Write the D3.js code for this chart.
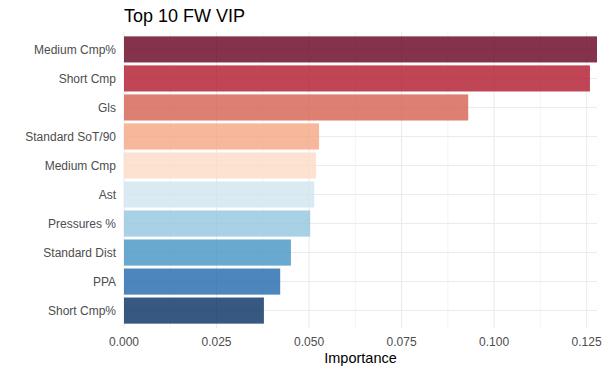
<!DOCTYPE html>
<html>
<head>
<meta charset="utf-8">
<script src="https://cdn.jsdelivr.net/npm/d3@7"></script>
<style>
  body { margin: 0; background: #fff; }
  text { font-family: "Liberation Sans", Arial, sans-serif; }
</style>
</head>
<body>
<div id="chart"></div>
<script>
// --- Data (top to bottom) ---
const features = ["Medium Cmp%", "Short Cmp", "Gls", "Standard SoT/90", "Medium Cmp",
                  "Ast", "Pressures %", "Standard Dist", "PPA", "Short Cmp%"];
const importance = [0.1278, 0.1259, 0.0930, 0.0527, 0.0519, 0.0514, 0.0503, 0.0451, 0.0422, 0.0378];
const barColors = ["#67001f", "#b2182b", "#d6604d", "#f4a582", "#fddbc7",
                   "#d1e5f0", "#92c5de", "#4393c3", "#2166ac", "#053061"];
const xTicks = [0, 0.025, 0.05, 0.075, 0.1, 0.125];
const xMinor = [0.0125, 0.0375, 0.0625, 0.0875, 0.1125];

const width = 605, height = 373;
const margin = { top: 32, right: 8, bottom: 45, left: 124 };
const innerW = width - margin.left - margin.right;
const innerH = height - margin.top - margin.bottom;

const svg = d3.select("#chart").append("svg")
    .attr("width", width)
    .attr("height", height);

const g = svg.append("g").attr("transform", `translate(${margin.left},${margin.top})`);

const x = d3.scaleLinear().domain([0, d3.max(importance)]).range([0, innerW]);

// discrete axis with ggplot-like 0.6 expansion each side
const step = innerH / (features.length - 1 + 1.2);
const yCenter = i => step * 0.6 + i * step;
const barH = step * 0.9;

// gridlines
g.append("g").selectAll("line.minor")
  .data(xMinor).join("line")
    .attr("x1", d => x(d)).attr("x2", d => x(d))
    .attr("y1", 0).attr("y2", innerH)
    .attr("stroke", "#ebebeb").attr("stroke-width", 0.55);

g.append("g").selectAll("line.major")
  .data(xTicks).join("line")
    .attr("x1", d => x(d)).attr("x2", d => x(d))
    .attr("y1", 0).attr("y2", innerH)
    .attr("stroke", "#ebebeb").attr("stroke-width", 1.07);

g.append("g").selectAll("line.hgrid")
  .data(features).join("line")
    .attr("x1", 0).attr("x2", innerW)
    .attr("y1", (d, i) => yCenter(i)).attr("y2", (d, i) => yCenter(i))
    .attr("stroke", "#ebebeb").attr("stroke-width", 1.07);

// bars
g.append("g").selectAll("rect")
  .data(features).join("rect")
    .attr("x", x(0))
    .attr("y", (d, i) => yCenter(i) - barH / 2)
    .attr("width", (d, i) => x(importance[i]) - x(0))
    .attr("height", barH)
    .attr("fill", (d, i) => barColors[i])
    .attr("fill-opacity", 0.8);

// y labels
g.append("g").selectAll("text")
  .data(features).join("text")
    .attr("x", -8)
    .attr("y", (d, i) => yCenter(i))
    .attr("dy", "0.35em")
    .attr("text-anchor", "end")
    .attr("font-size", 12)
    .attr("fill", "#4d4d4d")
    .text(d => d);

// x tick labels
g.append("g").selectAll("text")
  .data(xTicks).join("text")
    .attr("x", d => x(d))
    .attr("y", innerH + 18)
    .attr("text-anchor", "middle")
    .attr("font-size", 12)
    .attr("fill", "#4d4d4d")
    .text(d => d3.format(".3f")(d));

// axis title
svg.append("text")
    .attr("x", margin.left + innerW / 2)
    .attr("y", 363)
    .attr("text-anchor", "middle")
    .attr("font-size", 14.5)
    .attr("fill", "#000")
    .text("Importance");

// chart title
svg.append("text")
    .attr("x", margin.left)
    .attr("y", 22)
    .attr("font-size", 18)
    .attr("fill", "#000")
    .text("Top 10 FW VIP");
</script>
</body>
</html>
